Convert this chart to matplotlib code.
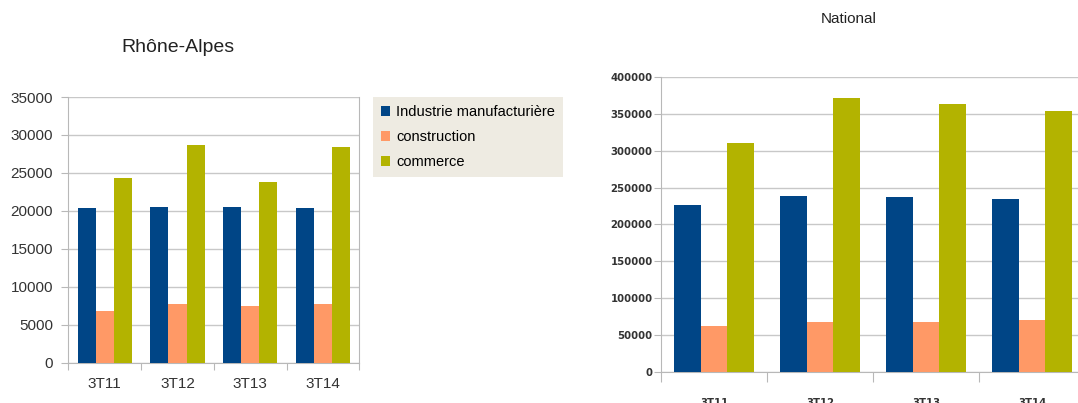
import numpy as np
import matplotlib.pyplot as plt
from matplotlib.patches import Patch

quarters = ['3T11', '3T12', '3T13', '3T14']
series = ['Industrie manufacturière', 'construction', 'commerce']
colors = ['#004586', '#FF9966', '#B3B300']

ra_industrie = [20400, 20500, 20500, 20400]
ra_construction = [6800, 7700, 7500, 7800]
ra_commerce = [24400, 28700, 23800, 28400]

nat_industrie = [227000, 239000, 238000, 234000]
nat_construction = [62500, 68000, 68000, 70500]
nat_commerce = [311000, 372000, 364000, 354000]

grid_col = '#C8C8C8'

fig = plt.figure(figsize=(10.78, 4.03), dpi=100)
ax1 = fig.add_axes([0.0635, 0.0993, 0.2698, 0.66])
ax2 = fig.add_axes([0.6132, 0.0777, 0.3933, 0.7305])


def draw(ax, values, ymax, step, tick_font, tick_size, xpad, ylen, xlen, ypad):
    x = np.arange(len(quarters)) + 0.5
    w = 0.25
    for i, (vals, c) in enumerate(zip(values, colors)):
        ax.bar(x + (i - 1) * w, vals, w, color=c, zorder=3)
    ax.set_xlim(0, len(quarters))
    ax.set_ylim(0, ymax)
    ax.set_yticks(np.arange(0, ymax + 1, step))
    ax.yaxis.grid(True, color=grid_col, linewidth=1, zorder=0)
    for s in ax.spines.values():
        s.set_color('#B8B8B8')
    ax.spines['top'].set_visible(False)
    ax.set_xticks(np.arange(len(quarters) + 1))
    ax.set_xticklabels([])
    ax.set_xticks(x, minor=True)
    ax.set_xticklabels(quarters, minor=True)
    ax.tick_params(axis='x', which='major', length=xlen, color='#B8B8B8')
    ax.tick_params(axis='x', which='minor', length=0, pad=xpad)
    ax.tick_params(axis='y', length=ylen, color='#B8B8B8', pad=ypad)
    for lab in ax.get_xticklabels(minor=True) + ax.get_yticklabels():
        lab.set_fontfamily(tick_font[0])
        lab.set_fontweight(tick_font[1])
        lab.set_fontsize(tick_size)
        lab.set_color('#333333')


draw(ax1, [ra_industrie, ra_construction, ra_commerce], 35000, 5000,
     ('Liberation Sans', 'normal'), 11, 10, 5, 5, 6)
draw(ax2, [nat_industrie, nat_construction, nat_commerce], 400000, 50000,
     ('DejaVu Sans', 'bold'), 7.3, 19, 5, 7.5, 1)

fig.text(0.165, 0.883, 'Rhône-Alpes', ha='center', va='center',
         fontsize=14, family='Liberation Sans', color='#222222')
fig.text(0.787, 0.952, 'National', ha='center', va='center',
         fontsize=11, family='Liberation Sans', color='#222222')

handles = [Patch(facecolor=c, edgecolor='none') for c in colors]
leg = fig.legend(handles, series, loc='upper left', bbox_to_anchor=(0.346, 0.759),
                 frameon=True, fancybox=False, fontsize=10.5,
                 prop={'family': 'Liberation Sans', 'size': 10.5},
                 handlelength=0.65, handleheight=0.65, handletextpad=0.4,
                 labelspacing=0.75, borderpad=0.55, borderaxespad=0)
leg.get_frame().set_facecolor('#EEEBE2')
leg.get_frame().set_edgecolor('none')
leg.get_frame().set_alpha(1)

fig.savefig('out.png', dpi=100)
